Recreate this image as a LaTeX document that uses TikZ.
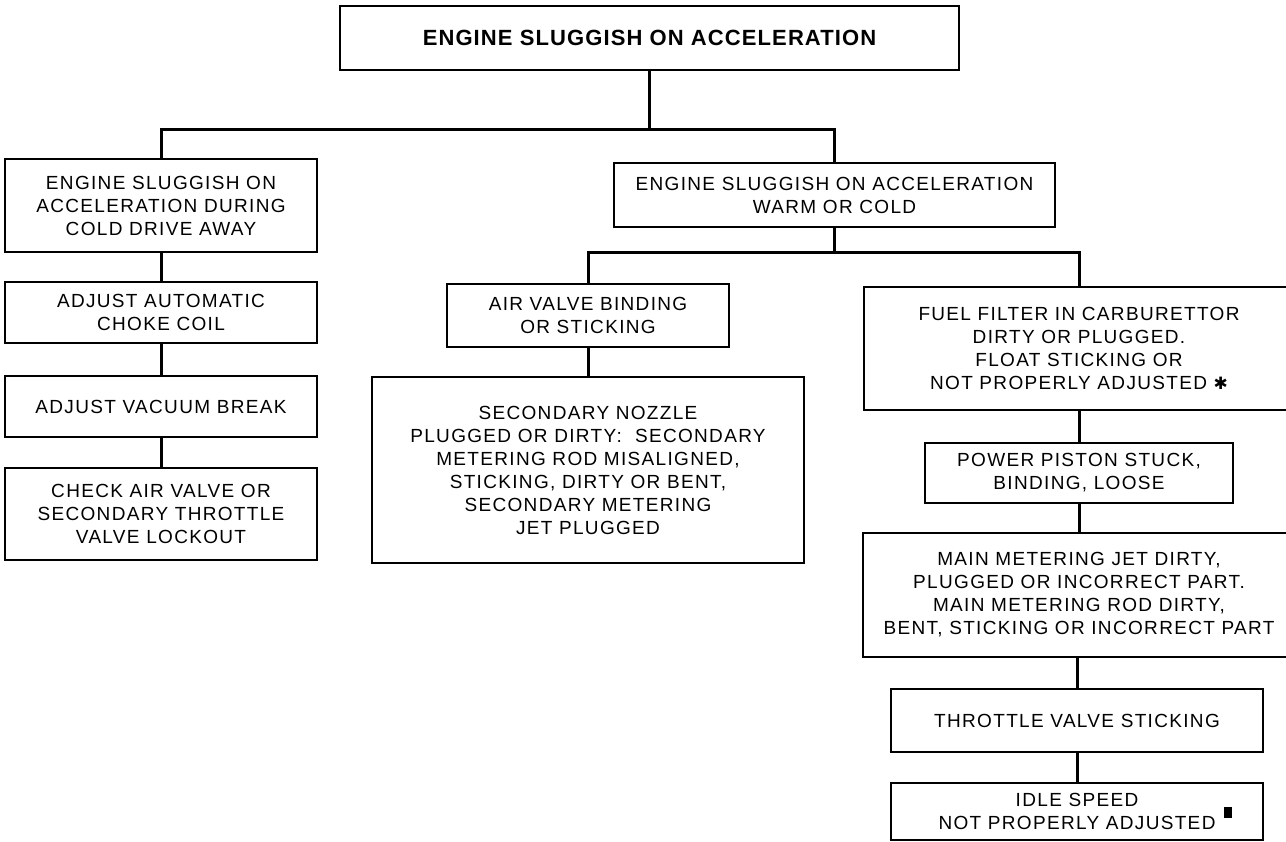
\documentclass[tikz,border=0pt]{standalone}
\usepackage{fontspec}
\setmainfont{Liberation Sans}
\newfontfamily\bodyfont[LetterSpace=7]{Liberation Sans}
\newfontfamily\titlefont[LetterSpace=5]{Liberation Sans}
\newfontfamily\symfont{DejaVu Sans}
\begin{document}
\begin{tikzpicture}[x=1pt,y=-1pt,
  box/.style={draw, line width=1.4pt, inner sep=0pt, align=center,
    font=\bodyfont\fontsize{19}{23}\selectfont},
  link/.style={line width=3pt}]
\clip (0,0) rectangle (1286,842);
\fill[white] (0,0) rectangle (1286,842);

\node[box, line width=2.6pt, minimum width=619pt, minimum height=64pt,
  font=\titlefont\bfseries\fontsize{22}{26}\selectfont] (top) at (649.5,38)
  {ENGINE SLUGGISH ON ACCELERATION};

\node[box, minimum width=312pt, minimum height=93pt] (cold) at (161,205.5)
  {ENGINE SLUGGISH ON\\ACCELERATION DURING\\COLD DRIVE AWAY};
\node[box, minimum width=441pt, minimum height=64pt] (warm) at (834.5,195)
  {ENGINE SLUGGISH ON ACCELERATION\\WARM OR COLD};

\node[box, minimum width=312pt, minimum height=61pt] (choke) at (161,312.5)
  {ADJUST AUTOMATIC\\CHOKE COIL};
\node[box, minimum width=312pt, minimum height=61pt] (vacuum) at (161,406.5)
  {ADJUST VACUUM BREAK};
\node[box, minimum width=312pt, minimum height=92pt] (check) at (161,514)
  {CHECK AIR VALVE OR\\SECONDARY THROTTLE\\VALVE LOCKOUT};

\node[box, minimum width=282pt, minimum height=63pt] (air) at (588,315.5)
  {AIR VALVE BINDING\\OR STICKING};
\node[box, minimum width=432pt, minimum height=186pt] (sec) at (588,470)
  {SECONDARY NOZZLE\\PLUGGED OR DIRTY:\ \ SECONDARY\\METERING ROD MISALIGNED,\\STICKING, DIRTY OR BENT,\\SECONDARY METERING\\JET PLUGGED};

\node[box, minimum width=430pt, minimum height=123pt] (fuel) at (1079,348.5)
  {FUEL FILTER IN CARBURETTOR\\DIRTY OR PLUGGED.\\FLOAT STICKING OR\\NOT PROPERLY ADJUSTED {\symfont\fontsize{17}{17}\selectfont ✱}};
\node[box, minimum width=308pt, minimum height=60pt] (power) at (1079,473)
  {POWER PISTON STUCK,\\BINDING, LOOSE};
\node[box, minimum width=432pt, minimum height=124pt] (main) at (1079,595)
  {MAIN METERING JET DIRTY,\\PLUGGED OR INCORRECT PART.\\MAIN METERING ROD DIRTY,\\BENT, STICKING OR INCORRECT PART};
\node[box, minimum width=372pt, minimum height=63pt] (throttle) at (1077,720.5)
  {THROTTLE VALVE STICKING};
\node[box, minimum width=372pt, minimum height=57pt] (idle) at (1077,811.5)
  {IDLE SPEED\\NOT PROPERLY ADJUSTED};
\node[fill=black, inner sep=0pt, minimum width=8pt, minimum height=11pt] (sq) at (1228,812) {};

\coordinate (j1) at (649.5,130);
\coordinate (j2) at (834.5,253);

\draw[link] (top.south) -- (j1);
\draw[link] (cold.north) |- (j1) -| (warm.north);
\draw[link] (warm.south) -- (j2);
\draw[link] (air.north) |- (j2) -| (fuel.north);

\draw[link] (cold.south) -- (choke.north);
\draw[link] (choke.south) -- (vacuum.north);
\draw[link] (vacuum.south) -- (check.north);

\draw[link] (air.south) -- (sec.north);

\draw[link] (fuel.south) -- (power.north);
\draw[link] (power.south) -- (main.north -| power.south);
\draw[link] (main.south -| throttle.north) -- (throttle.north);
\draw[link] (throttle.south) -- (idle.north);
\end{tikzpicture}
\end{document}
